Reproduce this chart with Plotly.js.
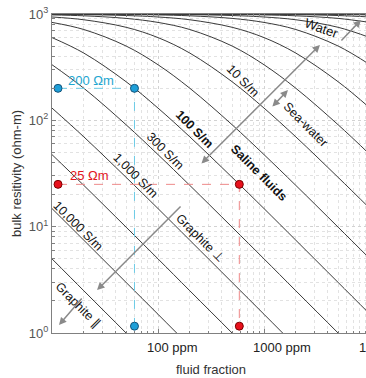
<!DOCTYPE html>
<html>
<head>
<meta charset="utf-8">
<script src="https://cdn.plot.ly/plotly-3.0.1.min.js"></script>
<style>
html,body{margin:0;padding:0;overflow:hidden;background:#fff;}
#chart{width:372px;height:378px;}
</style>
</head>
<body>
<div id="chart"></div>
<script>
// fluid fraction sample points (x)
const fluidFraction = [1e-5, 2e-5, 5e-5, 1e-4, 2e-4, 5e-4, 1e-3, 2e-3, 5e-3, 1e-2];
// bulk resistivity (ohm-m) read for each fluid conductivity curve (S/m)
const rho_0_001 = [1000, 1000, 1000, 999.9, 999.9, 999.7, 999.3, 998.7, 996.7, 993.4];
const rho_0_003 = [1000, 1000, 999.9, 999.8, 999.6, 999.0, 998.0, 996.0, 990.1, 980.4];
const rho_0_01  = [999.9, 999.9, 999.7, 999.3, 998.7, 996.7, 993.4, 986.8, 967.7, 937.5];
const rho_0_03  = [999.8, 999.6, 999.0, 998.0, 996.0, 990.1, 980.4, 961.5, 909.1, 833.3];
const rho_0_1   = [999.3, 998.7, 996.7, 993.4, 986.8, 967.7, 937.5, 882.4, 750, 600];
const rho_0_3   = [998, 996, 990.1, 980.4, 961.5, 909.1, 833.3, 714.3, 500, 333.3];
const rho_1     = [993.4, 986.8, 967.7, 937.5, 882.4, 750, 600, 428.6, 230.8, 130.4];
const rho_3     = [980.4, 961.5, 909.1, 833.3, 714.3, 500, 333.3, 200, 90.9, 47.6];
const rho_10    = [937.5, 882.4, 750, 600, 428.6, 230.8, 130.4, 69.8, 29.1, 14.8];
const rho_30    = [833.3, 714.3, 500, 333.3, 200, 90.9, 47.6, 24.4, 9.9, 4.98];
const rho_100   = [600, 428.6, 230.8, 130.4, 69.8, 29.1, 14.8, 7.44, 2.99, 1.50];
const rho_300   = [333.3, 200, 90.9, 47.6, 24.4, 9.9, 4.98, 2.49, 1.0, 0.5];
const rho_1000  = [130.4, 69.8, 29.1, 14.8, 7.44, 2.99, 1.50, 0.75, 0.3, 0.15];
const rho_3000  = [47.6, 24.4, 9.9, 4.98, 2.49, 1.0, 0.5, 0.25, 0.1, 0.05];
const rho_10000 = [14.8, 7.44, 2.99, 1.50, 0.75, 0.3, 0.15, 0.075, 0.03, 0.015];
const rho_30000 = [4.98, 2.49, 1.0, 0.5, 0.25, 0.1, 0.05, 0.025, 0.01, 0.005];
const curveNames = ['0.001 S/m','0.003 S/m','0.01 S/m','0.03 S/m','0.1 S/m','0.3 S/m','1 S/m','3 S/m','10 S/m','30 S/m','100 S/m','300 S/m','1,000 S/m','3,000 S/m','10,000 S/m','30,000 S/m'];
const curveRho = [rho_0_001, rho_0_003, rho_0_01, rho_0_03, rho_0_1, rho_0_3, rho_1, rho_3, rho_10, rho_30, rho_100, rho_300, rho_1000, rho_3000, rho_10000, rho_30000];

// example readings
const blueFrac = [1.14e-5, 6e-5, 6e-5];
const blueRho  = [200, 200, 1.16];
const redFrac  = [1.14e-5, 5.85e-4, 5.85e-4];
const redRho   = [25, 25, 1.16];

// axis tick labels
const yTickVals = [1, 10, 100, 1000];
const yTickText = ['10<sup>0</sup>', '10<sup>1</sup>', '10<sup>2</sup>', '10<sup>3</sup>'];
const xTickVals = [1e-4, 1e-3, 1e-2];
const xTickText = ['100 ppm', '1000 ppm', '10000 ppm'];

const FONT = 'Liberation Sans, Arial, Helvetica, sans-serif';

const traces = curveRho.map((r, i) => ({
  type: 'scatter', mode: 'lines', name: curveNames[i],
  x: fluidFraction, y: r,
  line: {color: '#3a3a3a', width: 1, shape: 'spline', smoothing: 1},
  hoverinfo: 'skip'
}));
traces.push({
  type: 'scatter', mode: 'lines+markers', x: blueFrac, y: blueRho,
  line: {color: '#6ccbe6', width: 1, dash: 'dash'},
  marker: {size: 8, color: '#1e9fd8', line: {color: '#16547a', width: 1}},
  cliponaxis: false
});
traces.push({
  type: 'scatter', mode: 'lines+markers', x: redFrac, y: redRho,
  line: {color: '#ee8a8a', width: 1, dash: 'dash'},
  marker: {size: 8, color: '#e8101c', line: {color: '#7a0000', width: 1}},
  cliponaxis: false
});

const L = v => Math.log10(v);
const lab = (text, x, y, angle, opts) => Object.assign({
  text: text, x: x, y: y, xref: 'x', yref: 'y', showarrow: false,
  textangle: angle, font: {family: FONT, size: 12.5, color: '#111'}
}, opts || {});
const arrow = (x, y, ax, ay, both) => ({
  text: '', x: x, y: y, xref: 'x', yref: 'y', ax: ax, ay: ay,
  showarrow: true, arrowhead: 2, startarrowhead: 2, arrowsize: 1, startarrowsize: 1,
  arrowwidth: 1.5, arrowcolor: '#8a8a8a', arrowside: both ? 'end+start' : 'end',
  standoff: 0, startstandoff: 0
});

const annotations = [
  lab('Water', -2.453, 2.859, 20, {font: {family: FONT, size: 13, color: '#111'}}),
  lab('10 S/m', -3.198, 2.370, 45),
  lab('Sea-water', -2.604, 1.956, 45),
  lab('<b>100 S/m</b>', -3.660, 1.919, 45, {font: {family: FONT, size: 12.5, color: '#111'}}),
  lab('<b>Saline fluids</b>', -3.047, 1.505, 45, {font: {family: FONT, size: 12.5, color: '#111'}}),
  lab('300 S/m', -3.934, 1.712, 45),
  lab('1,000 S/m', -4.208, 1.477, 45),
  lab('10,000 S/m', -4.755, 1.006, 45),
  lab('Graphite ⊥', -3.604, 0.893, 45),
  lab('Graphite ∥', -4.755, 0.263, 45),
  lab('200 Ωm', -4.632, 2.370, 0, {font: {family: FONT, size: 13, color: '#1ea6d0'}}),
  lab('25 Ωm', -4.642, 1.477, 0, {font: {family: FONT, size: 13, color: '#e3161e'}}),
  arrow(-2.472, 2.709, -120, 120, true),
  arrow(-2.774, 2.285, -17, 18, true),
  arrow(-2.085, 2.944, -21, 22, false),
  arrow(-4.575, 0.404, 85, -85, false),
  arrow(-4.934, 0.075, 24, -28, false)
];
xTickVals.forEach((v, i) => annotations.push({
  text: xTickText[i], x: L(v), y: 0, xref: 'x', yref: 'paper',
  xanchor: 'left', yanchor: 'middle', xshift: -13, yshift: -14,
  showarrow: false, font: {family: FONT, size: 13, color: '#222'}
}));

const gridMajor = '#d2d2d2', gridMinor = '#e2e2e2', axCol = '#808080';
const layout = {
  width: 372, height: 378,
  margin: {l: 52, r: 2, t: 14, b: 45},
  paper_bgcolor: '#fff', plot_bgcolor: '#fff',
  showlegend: false, hovermode: false,
  font: {family: FONT},
  xaxis: {
    type: 'log', range: [-5, -2], dtick: 1, tick0: 0,
    showticklabels: false,
    ticks: 'inside', ticklen: 4, tickcolor: axCol,
    showline: true, linecolor: axCol, linewidth: 1, mirror: 'ticks',
    showgrid: true, gridcolor: gridMajor, griddash: 'dot', zeroline: false,
    minor: {dtick: 'D1', ticks: 'inside', ticklen: 2.5, tickcolor: axCol, showgrid: true, gridcolor: gridMinor, griddash: 'dot'},
    title: {text: 'fluid fraction', standoff: 31, font: {family: FONT, size: 13, color: '#333'}}
  },
  yaxis: {
    type: 'log', range: [0, 3],
    tickmode: 'array', tickvals: yTickVals, ticktext: yTickText,
    tickfont: {family: FONT, size: 13, color: '#555'},
    ticks: 'inside', ticklen: 4, tickcolor: axCol,
    showline: true, linecolor: axCol, linewidth: 1, mirror: false,
    showgrid: true, gridcolor: gridMajor, griddash: 'dot', zeroline: false,
    minor: {dtick: 'D1', ticks: 'inside', ticklen: 2.5, tickcolor: axCol, showgrid: true, gridcolor: gridMinor, griddash: 'dot'},
    title: {text: 'bulk resitivity (ohm-m)', standoff: 4, font: {family: FONT, size: 13, color: '#333'}}
  },
  annotations: annotations
};

Plotly.newPlot('chart', traces, layout, {displayModeBar: false, staticPlot: true});
</script>
</body>
</html>
